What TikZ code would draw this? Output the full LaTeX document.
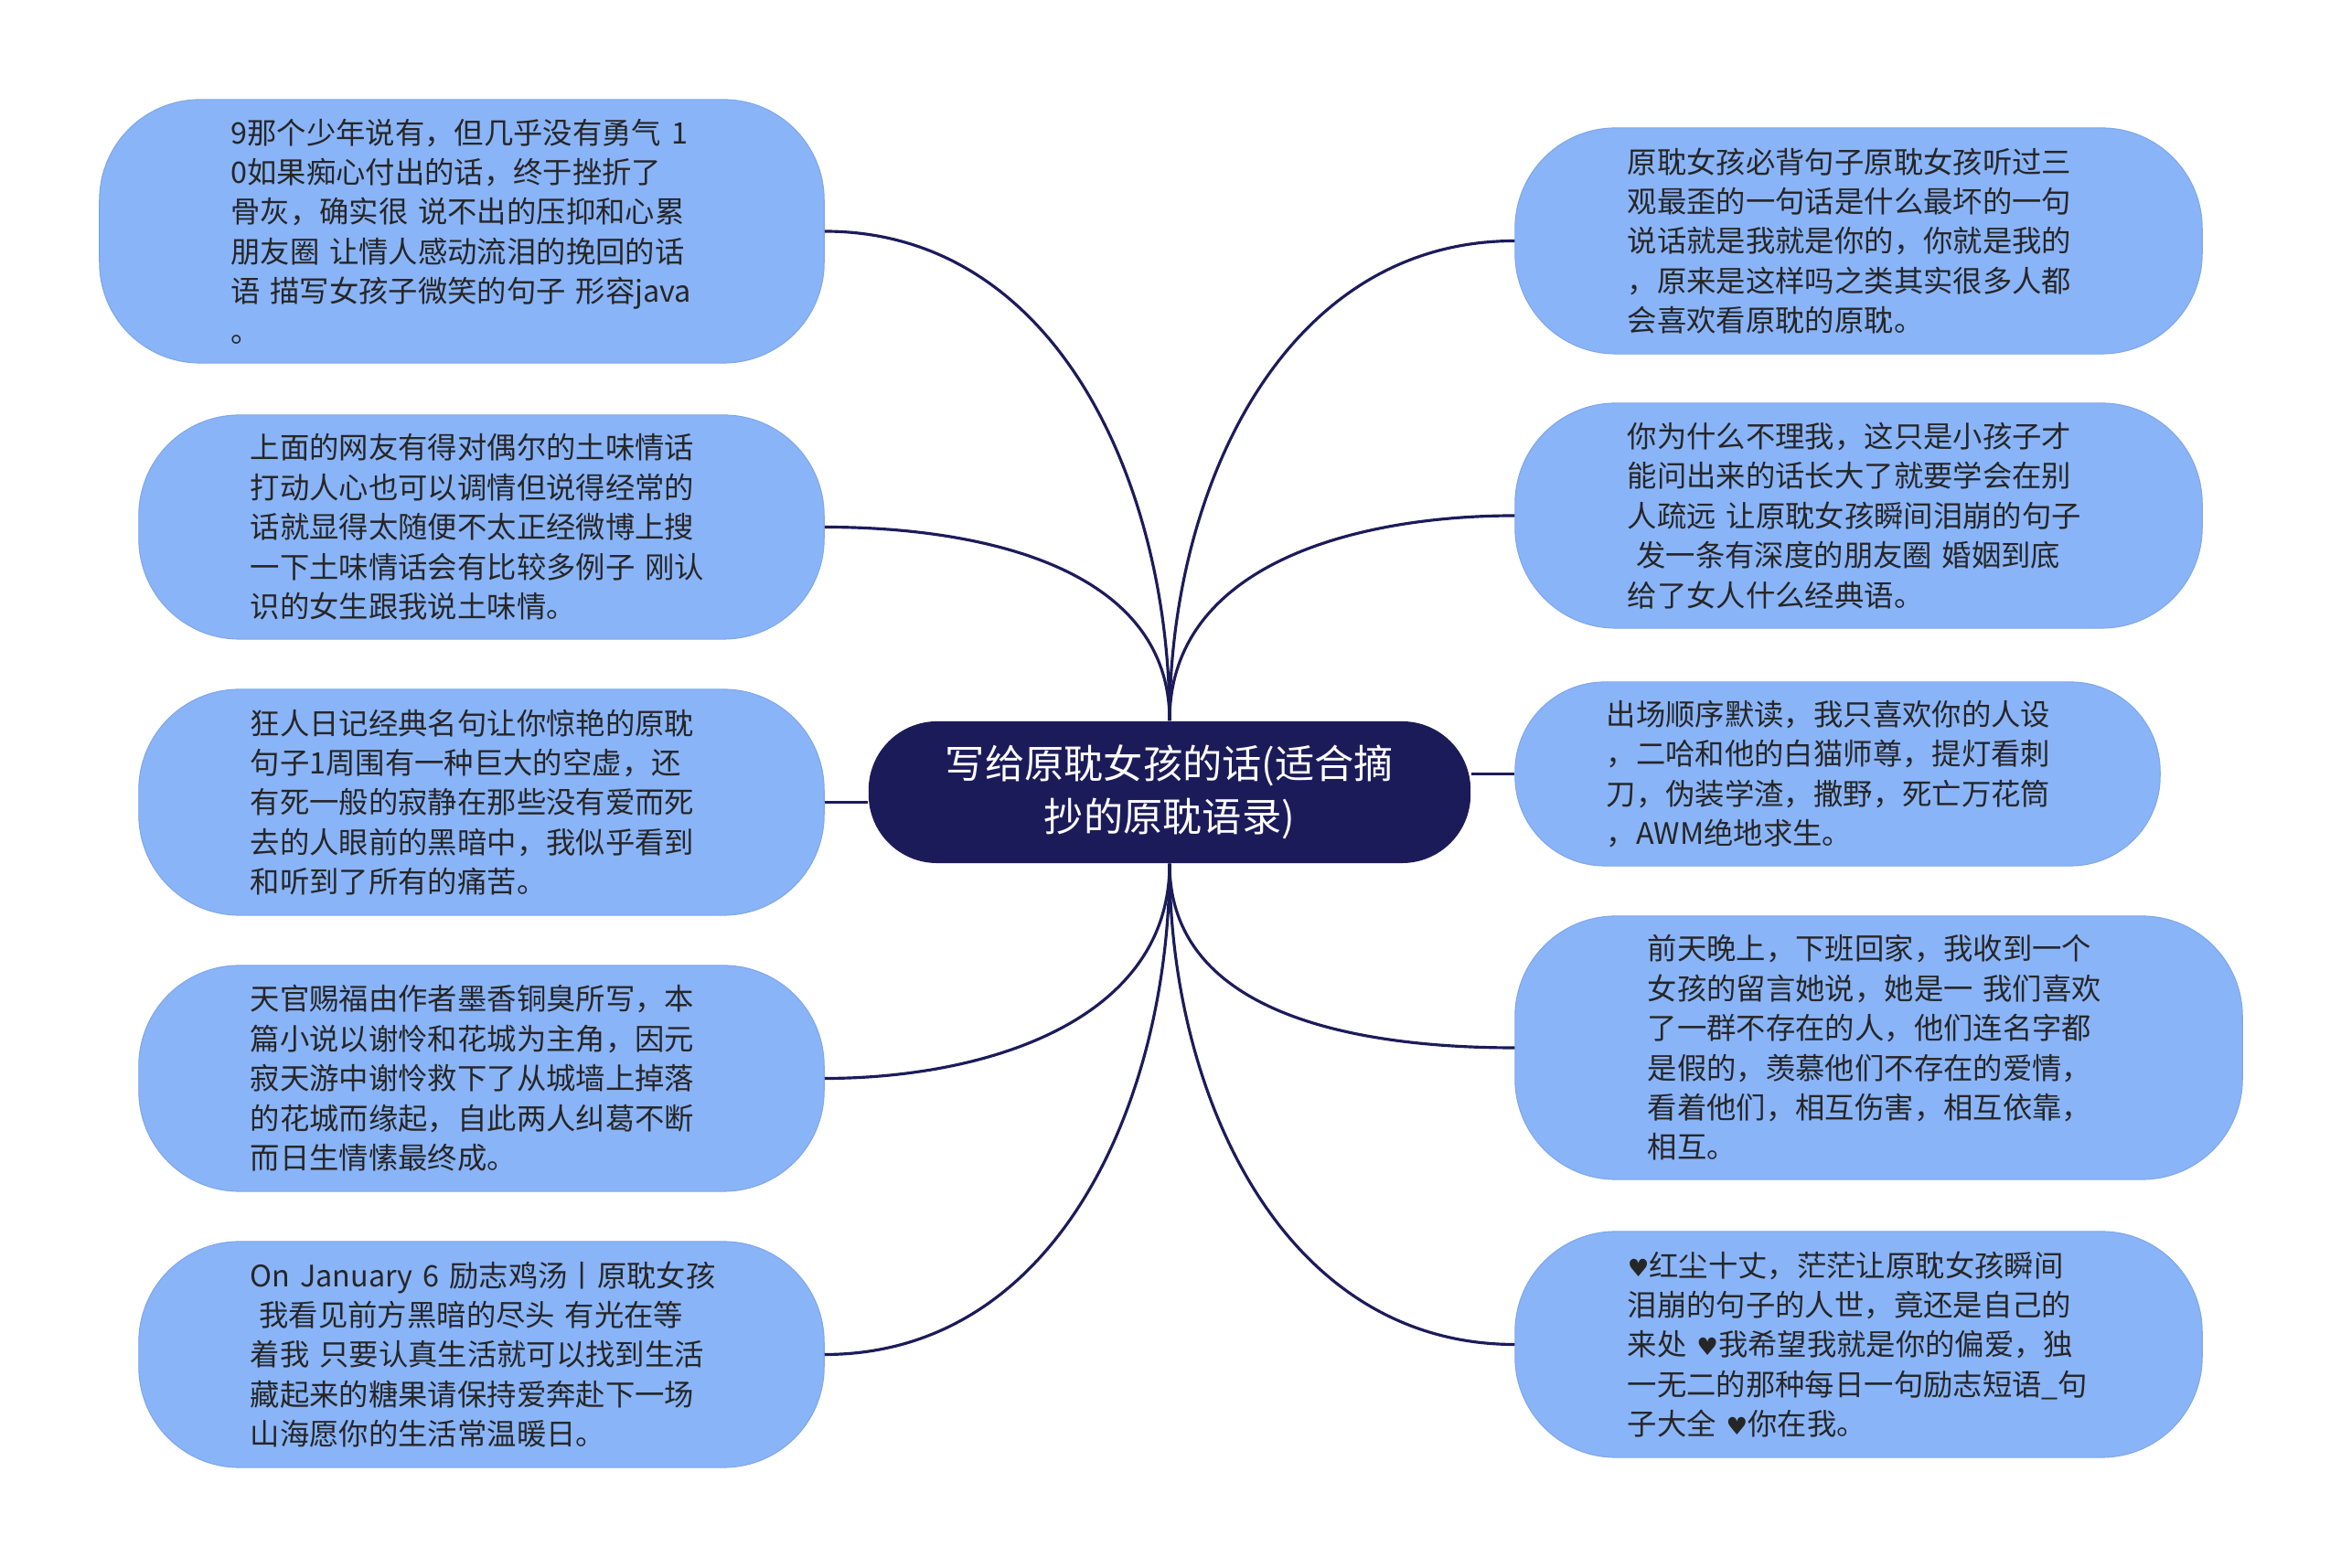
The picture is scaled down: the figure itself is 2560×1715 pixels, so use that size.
\documentclass[tikz,border=0pt]{standalone}
\usepackage{fontspec}
\setmainfont{Noto Sans CJK SC}
\newfontfamily\symfont{DejaVu Sans}
\usetikzlibrary{calc}

\definecolor{leafblue}{RGB}{138,180,248}
\definecolor{rootnavy}{RGB}{28,27,90}
\newcommand{\hrt}{{\symfont\fontsize{7.5}{7.5}\selectfont ♥}}

\begin{document}
\begin{tikzpicture}[x=0.01cm,y=0.01cm,
  leaf/.style={fill=leafblue,draw=leafblue!93!black,line width=0.3pt,
    rounded corners=1.1cm,inner xsep=0pt,inner ysep=0pt,text width=5.05cm,
    align=left,text=black!85,font={\fontsize{9.2}{12.35}\selectfont}},
  hub/.style={fill=rootnavy,text=white,rounded corners=0.75cm,
    minimum width=6.58cm,minimum height=1.55cm,align=center,
    font={\fontsize{12.3}{16.7}\selectfont}},
  link/.style={draw=rootnavy,line width=0.9pt}]
  \useasboundingbox (0,0) rectangle (2560,1715);

  \node[hub] (root) at (1279,848.5) {写给原耽女孩的话(适合摘\\抄的原耽语录)};

  \node[leaf,minimum width=7.92cm,minimum height=2.88cm] (l1) at (505,1462)
    {9那个少年说有，但几乎没有勇气 1\\0如果痴心付出的话，终于挫折了\\骨灰，确实很 说不出的压抑和心累\\朋友圈 让情人感动流泪的挽回的话\\语 描写女孩子微笑的句子 形容java\\。};
  \node[leaf,minimum width=7.49cm,minimum height=2.45cm] (l2) at (526.5,1138.5)
    {上面的网友有得对偶尔的土味情话\\打动人心也可以调情但说得经常的\\话就显得太随便不太正经微博上搜\\一下土味情话会有比较多例子 刚认\\识的女生跟我说土味情。};
  \node[leaf,minimum width=7.49cm,minimum height=2.47cm] (l3) at (526.5,837.5)
    {狂人日记经典名句让你惊艳的原耽\\句子1周围有一种巨大的空虚，还\\有死一般的寂静在那些没有爱而死\\去的人眼前的黑暗中，我似乎看到\\和听到了所有的痛苦。};
  \node[leaf,minimum width=7.49cm,minimum height=2.47cm] (l4) at (526.5,535.5)
    {天官赐福由作者墨香铜臭所写，本\\篇小说以谢怜和花城为主角，因元\\寂天游中谢怜救下了从城墙上掉落\\的花城而缘起，自此两人纠葛不断\\而日生情愫最终成。};
  \node[leaf,minimum width=7.49cm,minimum height=2.47cm] (l5) at (526.5,233.5)
    {\mbox{On January 6 励志鸡汤丨原耽女孩}\\\hspace*{0.3em}我看见前方黑暗的尽头 有光在等\\着我 只要认真生活就可以找到生活\\藏起来的糖果请保持爱奔赴下一场\\山海愿你的生活常温暖日。};

  \node[leaf,minimum width=7.51cm,minimum height=2.47cm] (r1) at (2032.5,1451.5)
    {原耽女孩必背句子原耽女孩听过三\\观最歪的一句话是什么最坏的一句\\说话就是我就是你的，你就是我的\\，原来是这样吗之类其实很多人都\\会喜欢看原耽的原耽。};
  \node[leaf,minimum width=7.51cm,minimum height=2.46cm] (r2) at (2032.5,1151)
    {你为什么不理我，这只是小孩子才\\能问出来的话长大了就要学会在别\\人疏远 让原耽女孩瞬间泪崩的句子\\\hspace*{0.3em}发一条有深度的朋友圈 婚姻到底\\给了女人什么经典语。};
  \node[leaf,minimum width=7.05cm,minimum height=2.01cm,rounded corners=0.98cm] (r3) at (2009.5,868.5)
    {出场顺序默读，我只喜欢你的人设\\，二哈和他的白猫师尊，提灯看刺\\刀，伪装学渣，撒野，死亡万花筒\\，AWM绝地求生。};
  \node[leaf,minimum width=7.95cm,minimum height=2.88cm] (r4) at (2054.5,569)
    {前天晚上，下班回家，我收到一个\\女孩的留言她说，她是一 我们喜欢\\了一群不存在的人，他们连名字都\\是假的，羡慕他们不存在的爱情，\\看着他们，相互伤害，相互依靠，\\相互。};
  \node[leaf,minimum width=7.51cm,minimum height=2.47cm] (r5) at (2032.5,244.5)
    {\hrt 红尘十丈，茫茫让原耽女孩瞬间\\泪崩的句子的人世，竟还是自己的\\来处 \hrt 我希望我就是你的偏爱，独\\一无二的那种每日一句励志短语\_句\\子大全 \hrt 你在我。};

  \foreach \n in {l1,l2}
    \draw[link] (root.north) to[out=90,in=0] (\n.east);
  \foreach \n in {l4,l5}
    \draw[link] (root.south) to[out=-90,in=0] (\n.east);
  \foreach \n in {r1,r2}
    \draw[link] (root.north) to[out=90,in=180] (\n.west);
  \foreach \n in {r4,r5}
    \draw[link] (root.south) to[out=-90,in=180] (\n.west);
  \draw[link] (l3.east) -- (l3.east -| root.west);
  \draw[link] (r3.west) -- (r3.west -| root.east);
\end{tikzpicture}
\end{document}
